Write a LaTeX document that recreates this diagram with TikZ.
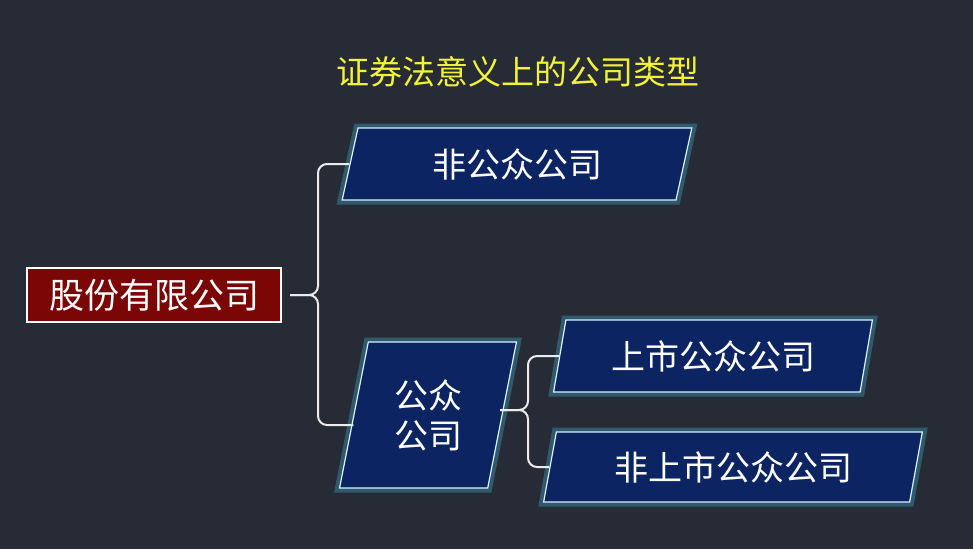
\documentclass[tikz,border=0pt]{standalone}
\usepackage{fontspec}
\setmainfont{Noto Sans CJK SC}
\usetikzlibrary{shapes.geometric}
\definecolor{bgdark}{HTML}{262B35}
\definecolor{navy}{HTML}{0C2462}
\definecolor{darkred}{HTML}{7A0606}
\definecolor{titleyellow}{HTML}{F2F23A}
\tikzset{
  para/.style={trapezium, trapezium left angle=77, trapezium right angle=103,
    trapezium stretches=true, fill=navy, draw=white!85!cyan, line width=1.2pt,
    preaction={draw=cyan!70!white, line width=9pt, opacity=0.3},
    text=white, font=\fontsize{34}{40}\selectfont, align=center},
  brace/.style={draw=white!85!gray, line width=2pt, rounded corners=9pt}
}
\begin{document}
\begin{tikzpicture}[x=1pt,y=-1pt]
\fill[bgdark] (0,0) rectangle (973,549);
\useasboundingbox (0,0) rectangle (973,549);
\node[text=titleyellow, font=\fontsize{33}{38}\selectfont] (title) at (518,72) {证券法意义上的公司类型};
\node[draw=white, line width=1.2pt, fill=darkred, text=white, minimum width=254, minimum height=54,
  font=\fontsize{35}{40}\selectfont] (corp) at (154,295) {股份有限公司};
\node[para, minimum width=350, minimum height=72] (npc) at (517,164) {非公众公司};
\node[para, minimum width=177, minimum height=146] (pc) at (428,415) {公众\\公司};
\node[para, minimum width=320, minimum height=72] (lpc) at (713,356) {上市公众公司};
\node[para, minimum width=380, minimum height=70] (upc) at (733,467) {非上市公众公司};
% braces
\coordinate (tip1) at (290,295);
\coordinate (tip2) at (500,410);
\draw[brace] (npc.west) -- (318,164) -- (318,295) -- (tip1);
\draw[brace] (tip1) -- (318,295) -- (318,425) -- (pc.west |- 0,425);
\draw[brace] (lpc.west) -- (528,356) -- (528,410) -- (tip2);
\draw[brace] (tip2) -- (528,410) -- (528,467) -- (upc.west);
\end{tikzpicture}
\end{document}
